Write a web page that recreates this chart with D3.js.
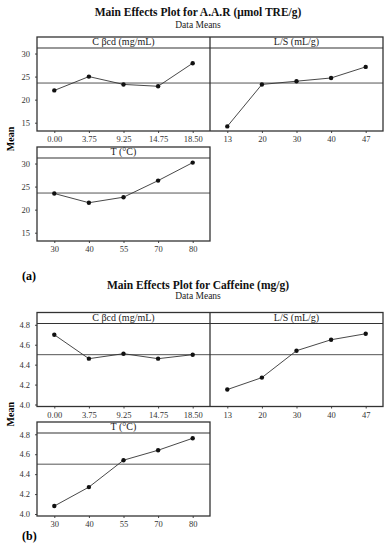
<!DOCTYPE html>
<html>
<head>
<meta charset="utf-8">
<script src="https://cdn.jsdelivr.net/npm/d3@7"></script>
<style>
  body { margin: 0; background: #fff; }
  svg { display: block; }
  .tick text { font-family: "Liberation Serif", serif; font-size: 8.5px; fill: #333; }
  .tick line { stroke: #444; }
</style>
</head>
<body>
<div class="chart"></div>
<script>
// factor levels (tick labels)
const cbcdLevels = ["0.00", "3.75", "9.25", "14.75", "18.50"];
const lsLevels = ["13", "20", "30", "40", "47"];
const tLevels = ["30", "40", "55", "70", "80"];
const factorNames = ["C \u03B2cd (mg/mL)", "L/S (mL/g)", "T (\u00B0C)"];

// (a) A.A.R means
const aarCbcd = [22.0, 25.0, 23.3, 22.9, 27.9];
const aarLS = [14.2, 23.3, 24.0, 24.7, 27.1];
const aarT = [23.5, 21.5, 22.7, 26.3, 30.2];
const aarMean = 23.6;
const aarTicks = [15, 20, 25, 30];

// (b) caffeine means
const cafCbcd = [4.70, 4.46, 4.51, 4.46, 4.50];
const cafLS = [4.15, 4.27, 4.54, 4.65, 4.71];
const cafT = [4.08, 4.27, 4.54, 4.64, 4.76];
const cafMean = 4.50;
const cafTicks = [4.0, 4.2, 4.4, 4.6, 4.8];

const W = 391, H = 550;
const svg = d3.select(".chart").append("svg")
  .attr("width", W)
  .attr("height", H);

const font = "'Liberation Serif', serif";
const panelW = 173, stripH = 11, plotH = 83;
const leftX = 37;

const charts = [
  { title: "Main Effects Plot for A.A.R (\u03BCmol TRE/g)", titleY: 16, subY: 27.5,
    tag: "(a)", tagY: 280, rows: [37, 147], domain: [13.2, 31.2],
    ticks: aarTicks, fmt: d3.format("d"), mean: aarMean,
    series: [aarCbcd, aarLS, aarT] },
  { title: "Main Effects Plot for Caffeine (mg/g)", titleY: 289, subY: 299,
    tag: "(b)", tagY: 540, rows: [312.5, 422], domain: [3.98, 4.813],
    ticks: cafTicks, fmt: d3.format(".1f"), mean: cafMean,
    series: [cafCbcd, cafLS, cafT] }
];
const levelSets = [cbcdLevels, lsLevels, tLevels];

function drawPanel(g, x0, top, levels, values, c, name) {
  const x = d3.scalePoint().domain(levels).range([x0, x0 + panelW]).padding(0.5);
  const y = d3.scaleLinear().domain(c.domain).range([top + stripH + plotH, top + stripH]);
  const bottom = top + stripH + plotH;

  // mean reference line
  g.append("line")
    .attr("x1", x0).attr("x2", x0 + panelW)
    .attr("y1", y(c.mean)).attr("y2", y(c.mean))
    .attr("stroke", "#555").attr("stroke-width", 1);

  // effect line + points
  const pts = levels.map((l, i) => ({ l: l, v: values[i] }));
  g.append("path")
    .datum(pts)
    .attr("fill", "none")
    .attr("stroke", "#333")
    .attr("stroke-width", 0.9)
    .attr("d", d3.line().x(d => x(d.l)).y(d => y(d.v)));
  g.selectAll(null).data(pts).enter().append("circle")
    .attr("cx", d => x(d.l)).attr("cy", d => y(d.v))
    .attr("r", 2.2).attr("fill", "#111");

  // strip header
  g.append("line")
    .attr("x1", x0).attr("x2", x0 + panelW)
    .attr("y1", top + stripH).attr("y2", top + stripH)
    .attr("stroke", "#333").attr("stroke-width", 1.1);
  g.append("text")
    .attr("x", x0 + panelW / 2).attr("y", top + stripH / 2 + 0.5)
    .attr("text-anchor", "middle").attr("dominant-baseline", "middle")
    .style("font-family", font).style("font-size", "10px").style("fill", "#222")
    .text(name);

  // x axis
  const xa = g.append("g")
    .attr("transform", "translate(0," + bottom + ")")
    .call(d3.axisBottom(x).tickSize(2).tickPadding(3));
  xa.select(".domain").remove();
  return { y: y, bottom: bottom };
}

charts.forEach(c => {
  const g = svg.append("g");

  g.append("text")
    .attr("x", 198).attr("y", c.titleY)
    .attr("text-anchor", "middle")
    .style("font-family", font).style("font-size", "11.5px").style("font-weight", "bold")
    .style("fill", "#111")
    .text(c.title);
  g.append("text")
    .attr("x", 198).attr("y", c.subY)
    .attr("text-anchor", "middle")
    .style("font-family", font).style("font-size", "9.5px").style("fill", "#222")
    .text("Data Means");

  // row 1: two panels, row 2: one panel
  const layout = [
    { x0: leftX, top: c.rows[0] },
    { x0: leftX + panelW, top: c.rows[0] },
    { x0: leftX, top: c.rows[1] }
  ];
  layout.forEach((p, i) => {
    const r = drawPanel(g, p.x0, p.top, levelSets[i], c.series[i], c, factorNames[i]);
    if (p.x0 === leftX) {
      const ya = g.append("g")
        .attr("transform", "translate(" + leftX + ",0)")
        .call(d3.axisLeft(r.y).tickValues(c.ticks).tickFormat(c.fmt).tickSize(2).tickPadding(5));
      ya.select(".domain").remove();
    }
  });

  // borders
  const h = stripH + plotH;
  g.append("rect")
    .attr("x", leftX).attr("y", c.rows[0])
    .attr("width", panelW * 2).attr("height", h)
    .attr("fill", "none").attr("stroke", "#333").attr("stroke-width", 1.3);
  g.append("line")
    .attr("x1", leftX + panelW).attr("x2", leftX + panelW)
    .attr("y1", c.rows[0]).attr("y2", c.rows[0] + h)
    .attr("stroke", "#333").attr("stroke-width", 1.3);
  g.append("rect")
    .attr("x", leftX).attr("y", c.rows[1])
    .attr("width", panelW).attr("height", h)
    .attr("fill", "none").attr("stroke", "#333").attr("stroke-width", 1.3);

  // y label
  const midY = (c.rows[0] + h + c.rows[1]) / 2;
  g.append("text")
    .attr("transform", "translate(14," + midY + ") rotate(-90)")
    .attr("text-anchor", "middle")
    .style("font-family", font).style("font-size", "10px").style("font-weight", "bold")
    .text("Mean");

  // panel tag
  g.append("text")
    .attr("x", 22).attr("y", c.tagY)
    .style("font-family", font).style("font-size", "12px").style("font-weight", "bold")
    .text(c.tag);
});
</script>
</body>
</html>
